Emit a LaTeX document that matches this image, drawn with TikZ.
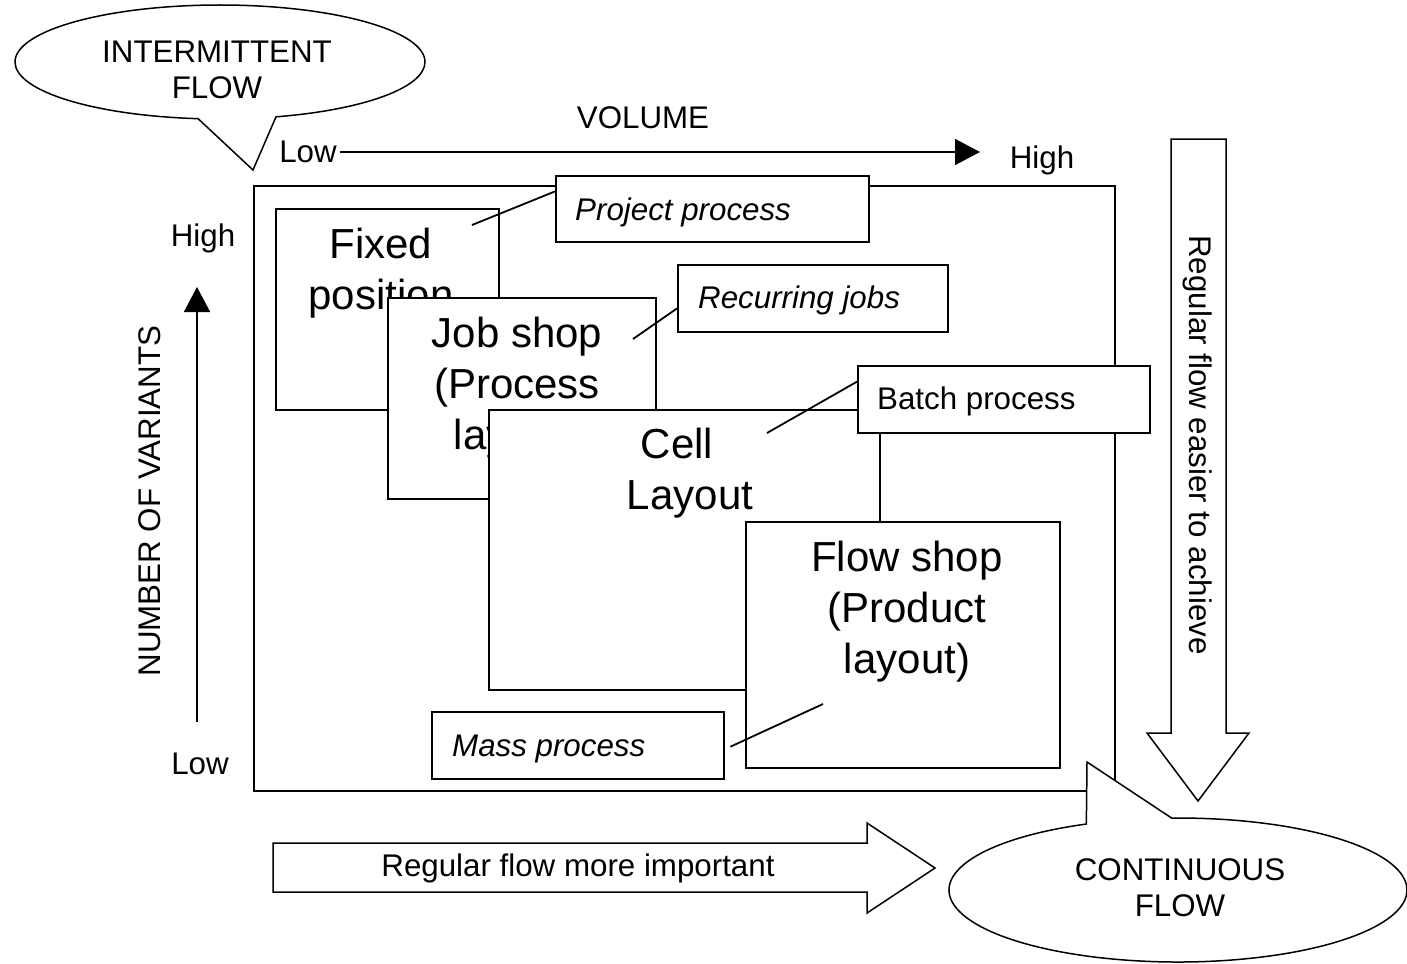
\documentclass[tikz,border=0pt]{standalone}
\usepackage{fontspec}
\setmainfont{Liberation Sans}
\usetikzlibrary{shapes.callouts,arrows.meta,calc}
\begin{document}
\begin{tikzpicture}[x=1pt,y=-1pt,
  frame/.style={draw,line width=1.5pt,inner sep=0pt,anchor=north west},
  layoutbox/.style={draw,fill=white,line width=1.8pt,inner sep=0pt,anchor=north west},
  tagbox/.style={draw,fill=white,line width=2.4pt,inner sep=0pt,anchor=north west},
  bigtext/.style={font=\fontsize{42}{51}\selectfont,align=center,inner sep=0pt},
  smalltext/.style={font=\fontsize{31.3}{36}\selectfont,inner sep=0pt},
  tagtext/.style={font=\fontsize{31.3}{36}\selectfont\itshape,inner sep=0pt,anchor=base west},
  leader/.style={line width=1.8pt},
  axis/.style={line width=1.5pt,-{Triangle[length=25pt,width=26pt]}},
  blockarrow/.style={draw,fill=white,line width=1.5pt,line join=miter},
  bubble/.style={ellipse callout,draw,fill=white,line width=1.5pt,inner sep=0pt},
]
\useasboundingbox (0,0) rectangle (1407,963);

% outer frame of the matrix
\node[frame,minimum width=861,minimum height=605] (frame) at (253,185) {};

% layout boxes, later ones on top of earlier ones
\node[layoutbox,minimum width=223,minimum height=201] (fixed) at (275,208) {};
\node[bigtext] at (381,273) {Fixed\\position};
\node[layoutbox,minimum width=268,minimum height=201] (job) at (387,297) {};
\node[bigtext] at (517,388) {Job shop\\(Process\\layout)};
\node[layoutbox,minimum width=391,minimum height=280] (cell) at (488,409) {};
\node[bigtext] at (690,473) {\mbox{Cell\hspace{26pt}}\\Layout};
\node[layoutbox,minimum width=314,minimum height=246] (flow) at (745,521) {};
\node[bigtext] at (907,612) {Flow shop\\(Product\\layout)};

% process type tags
\node[tagbox,minimum width=313,minimum height=66] (project) at (555,175) {};
\node[tagtext] at (575,220) {Project process};
\node[tagbox,minimum width=270,minimum height=67] (recur) at (677,264) {};
\node[tagtext] at (698,308) {Recurring jobs};
\node[tagbox,minimum width=292,minimum height=67] (batch) at (857,365) {};
\node[tagtext,font=\fontsize{31.3}{36}\selectfont] at (877,409) {Batch process};
\node[tagbox,minimum width=292,minimum height=67] (mass) at (431,711) {};
\node[tagtext] at (452,756) {Mass process};

% leader lines from tags into the layouts
\coordinate (pjend) at (472,225);
\coordinate (rjend) at (633,339);
\coordinate (bpend) at (767,433);
\coordinate (mpend) at (823,704);
\draw[leader] ($(project.north west)!0.24!(project.south west)$) -- (pjend);
\draw[leader] ($(recur.north west)!0.64!(recur.south west)$) -- (rjend);
\draw[leader] ($(batch.north west)!0.24!(batch.south west)$) -- (bpend);
\draw[leader] ($(mass.east)+(5,1)$) -- (mpend);

% volume axis
\node[smalltext] at (643,118) {VOLUME};
\node[smalltext] (vlow) at (308,152) {Low};
\node[smalltext] at (1042,160) {High};
\coordinate (vend) at (980,152);
\draw[axis] (vlow.east) ++(3,0) -- (vend);

% variants axis
\node[smalltext] at (203,238) {High};
\node[smalltext] at (200,764) {Low};
\node[smalltext,rotate=90] at (150,501) {NUMBER OF VARIANTS};
\coordinate (nstart) at (197,722);
\coordinate (nend) at (197,287);
\draw[axis] (nstart) -- (nend);

% block arrows
\draw[blockarrow] (273,843) -- (867,843) -- (867,823) -- (935,868) -- (867,913) -- (867,892) -- (273,892) -- cycle;
\node[smalltext] at (578,868) {Regular flow more important};
\draw[blockarrow] (1171,139) -- (1226,139) -- (1226,733) -- (1249,733) -- (1198,801) -- (1147,733) -- (1171,733) -- cycle;
\node[smalltext,rotate=-90] at (1198,445) {Regular flow easier to achieve};

% callouts
\node[bubble,minimum width=410,minimum height=114,callout absolute pointer={(253,170)},callout pointer arc=22] (interm) at (220,62) {};
\node[smalltext,align=center] at (217,70) {INTERMITTENT\\FLOW};
\node[bubble,minimum width=458,minimum height=144,callout absolute pointer={(1087,762)},callout pointer arc=22] (contin) at (1178,890) {};
\node[smalltext,align=center] at (1180,888) {CONTINUOUS\\FLOW};
\end{tikzpicture}
\end{document}
